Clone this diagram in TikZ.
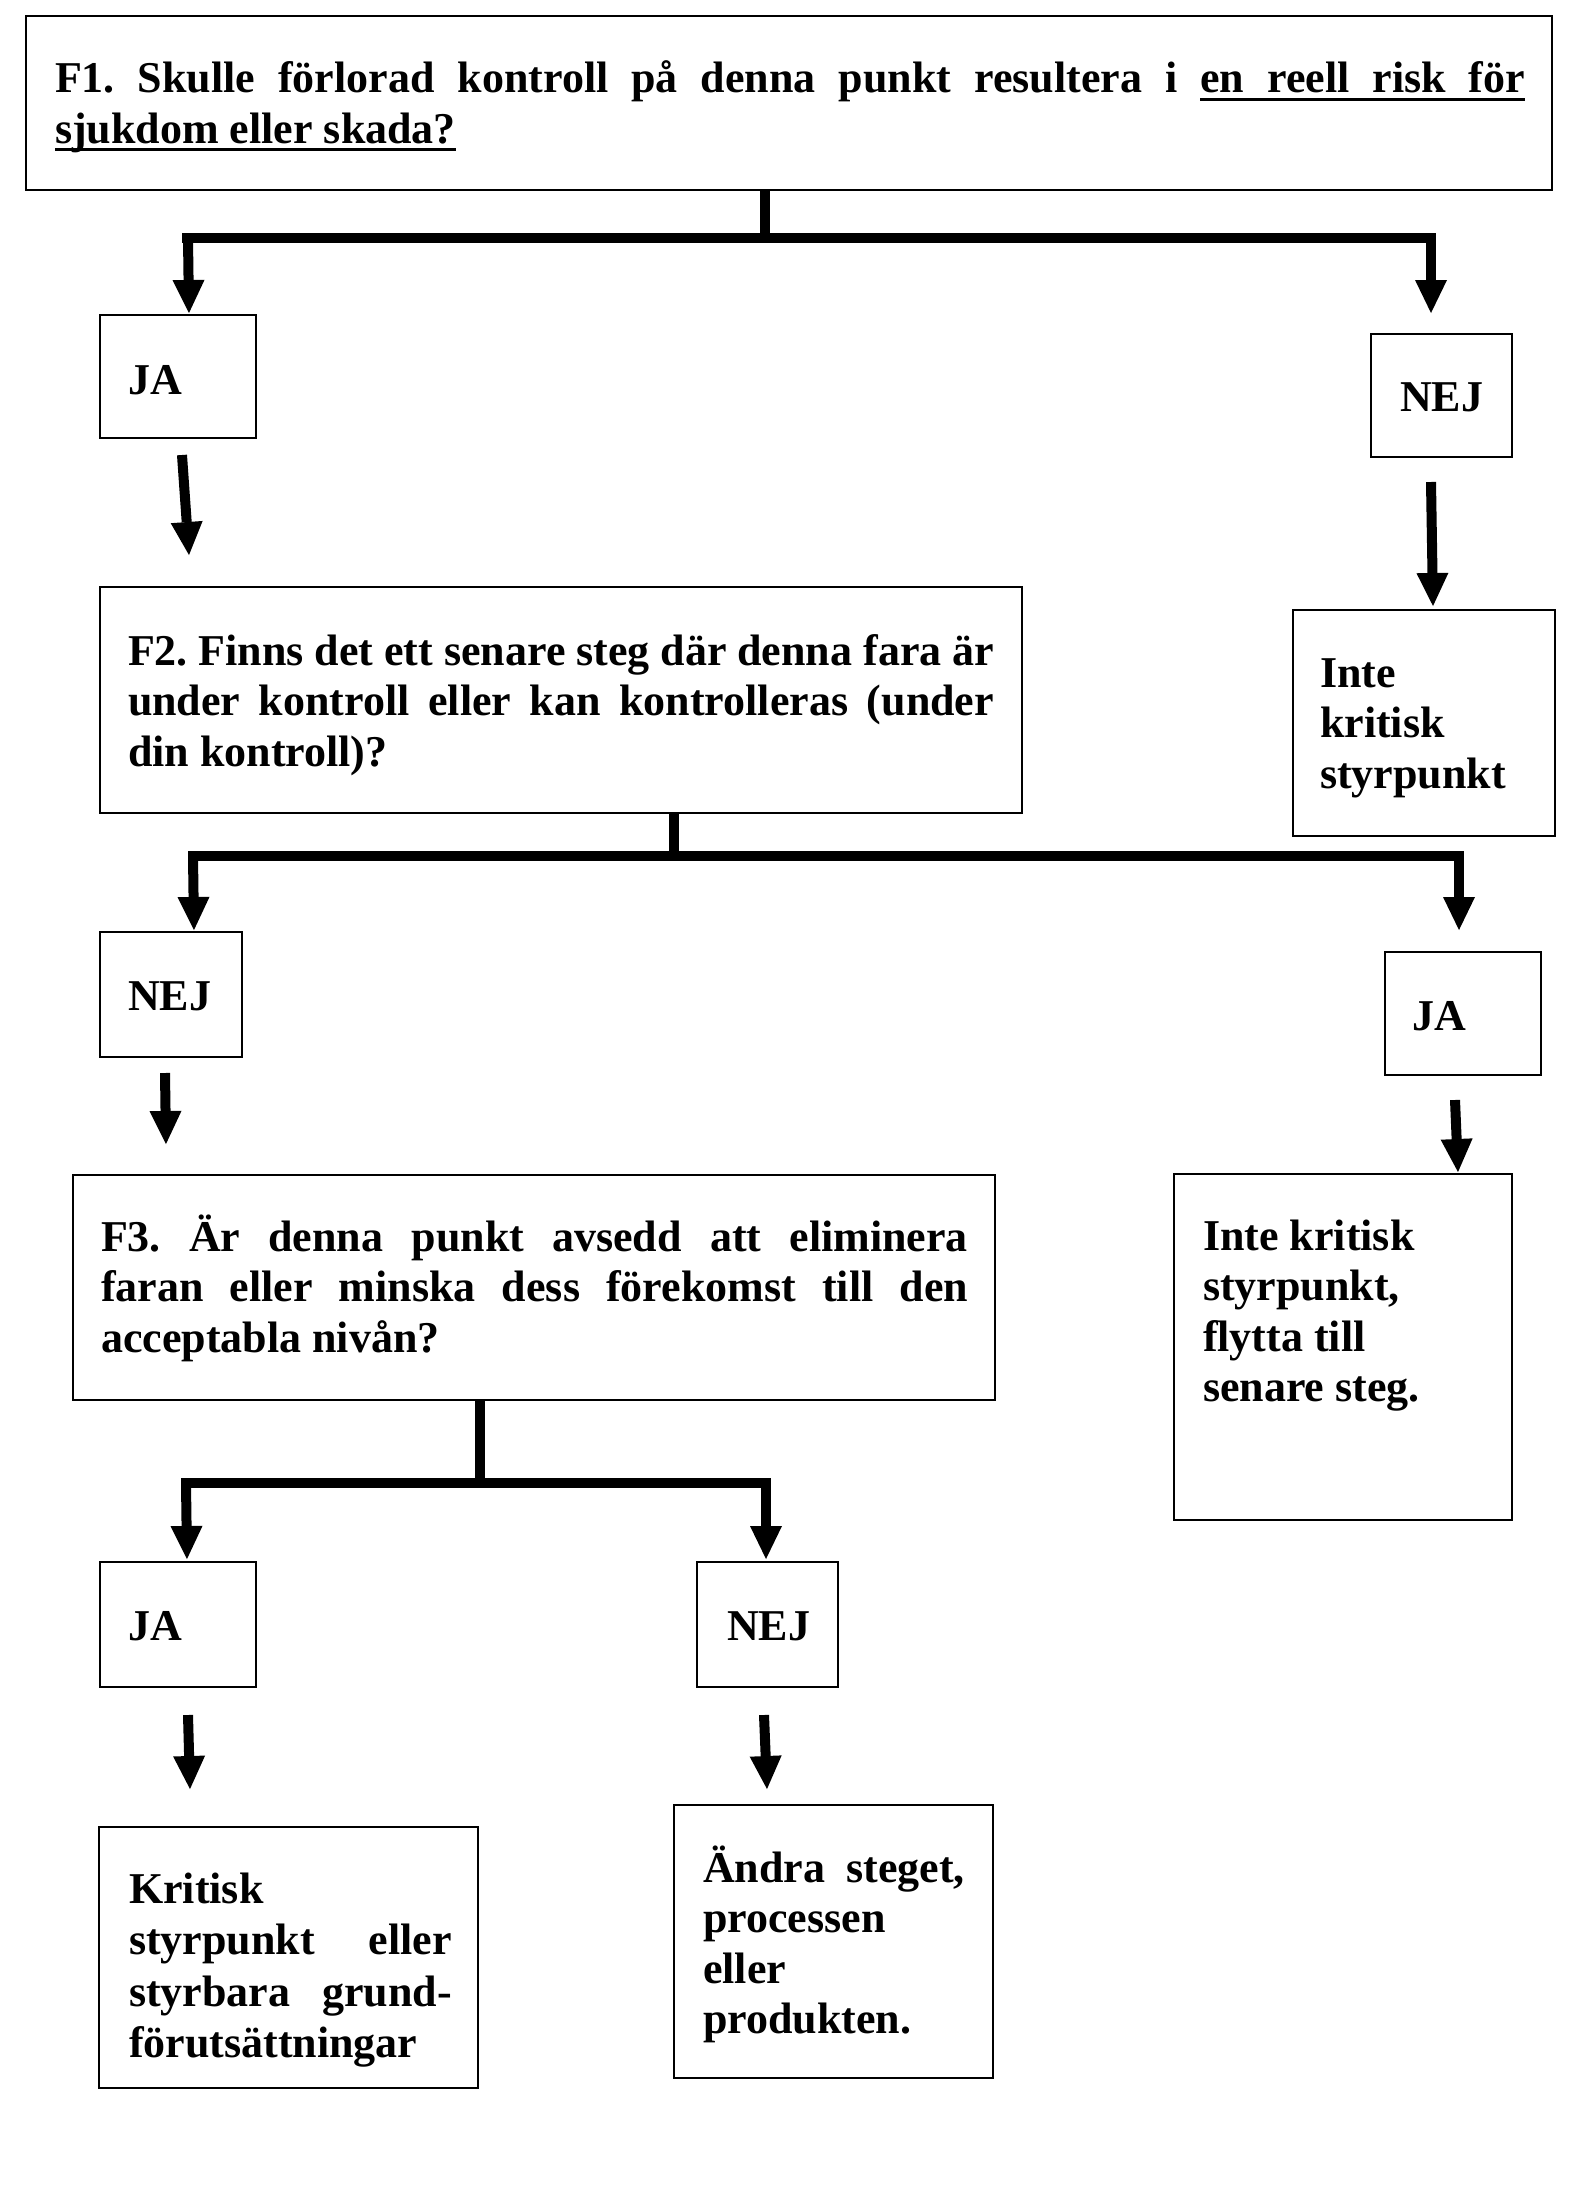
\documentclass[tikz,border=0pt]{standalone}
\usepackage{fontspec}
\setmainfont{Liberation Serif}
\usetikzlibrary{arrows.meta}
% underlined word and underlined stretchable space
\newcommand\uw[1]{\setbox0=\hbox{#1}\rlap{\vrule height -5pt depth 8pt width \wd0}\box0}
\newcommand\ug{\leaders\hrule height -5pt depth 8pt\hskip .25em plus 1fil minus .1em}
% justified line / left line / text block
\newcommand\jl[1]{\hbox to\hsize{\spaceskip=.25em plus 1fil minus .1em\relax #1}}
\newcommand\lft[1]{\hbox{#1}}
\newcommand\tblock[3][50.5pt]{\vtop{\hsize=#2\baselineskip=#1\lineskiplimit=-100pt\relax #3}}
\tikzset{
  x=1pt, y=-1pt,
  box/.style={draw, line width=2.5pt, anchor=north west, inner sep=0pt, outer sep=0pt},
  txt/.style={anchor=base west, inner sep=0pt, outer sep=0pt,
    font=\fontsize{44pt}{50.5pt}\selectfont\bfseries\frenchspacing},
  conn/.style={line width=10pt},
  arr/.style={line width=10pt, -{Triangle[width=32pt,length=33pt,line width=0pt]}}
}
\begin{document}
\begin{tikzpicture}
\useasboundingbox[fill=white] (0,0) rectangle (1580,2205);

% ---------- boxes ----------
\node[box, minimum width=1526pt, minimum height=174pt] (f1) at (26,16) {};
\node[box, minimum width=156pt, minimum height=123pt] (ja1) at (100,315) {};
\node[box, minimum width=141pt, minimum height=123pt] (nej1) at (1371,334) {};
\node[box, minimum width=922pt, minimum height=226pt] (f2) at (100,587) {};
\node[box, minimum width=262pt, minimum height=226pt] (inte1) at (1293,610) {};
\node[box, minimum width=142pt, minimum height=125pt] (nej2) at (100,932) {};
\node[box, minimum width=156pt, minimum height=123pt] (ja2) at (1385,952) {};
\node[box, minimum width=922pt, minimum height=225pt] (f3) at (73,1175) {};
\node[box, minimum width=338pt, minimum height=346pt] (inte2) at (1174,1174) {};
\node[box, minimum width=156pt, minimum height=125pt] (ja3) at (100,1562) {};
\node[box, minimum width=141pt, minimum height=125pt] (nej3) at (697,1562) {};
\node[box, minimum width=379pt, minimum height=261pt] (krit) at (99,1827) {};
\node[box, minimum width=319pt, minimum height=273pt] (andra) at (674,1805) {};

% ---------- texts ----------
\node[txt] (f1t) at (55,93) {\tblock{1470pt}{%
  \jl{F1. Skulle förlorad kontroll på denna punkt resultera i \uw{en}\ug\uw{reell}\ug\uw{risk}\ug\uw{för}}
  \lft{\uw{sjukdom eller skada?}}}};
\node[txt] (ja1t) at (128,394) {JA};
\node[txt] (nej1t) at (1400,411) {NEJ};
\node[txt] (f2t) at (128,665) {\tblock{866pt}{%
  \jl{F2. Finns det ett senare steg där denna fara är}
  \jl{under kontroll eller kan kontrolleras (under}
  \lft{din kontroll)?}}};
\node[txt] (inte1t) at (1320,687) {\tblock{220pt}{%
  \lft{Inte}
  \lft{kritisk}
  \lft{styrpunkt}}};
\node[txt] (nej2t) at (128,1010) {NEJ};
\node[txt] (ja2t) at (1412,1030) {JA};
\node[txt] (f3t) at (101,1251) {\tblock{867pt}{%
  \jl{F3. Är denna punkt avsedd att eliminera}
  \jl{faran eller minska dess förekomst till den}
  \lft{acceptabla nivån?}}};
\node[txt] (inte2t) at (1203,1250) {\tblock{290pt}{%
  \lft{Inte kritisk}
  \lft{styrpunkt,}
  \lft{flytta till}
  \lft{senare steg.}}};
\node[txt] (ja3t) at (128,1640) {JA};
\node[txt] (nej3t) at (727,1640) {NEJ};
\node[txt] (kritt) at (129,1903) {\tblock[51.5pt]{323pt}{%
  \lft{Kritisk}
  \jl{styrpunkt eller}
  \jl{styrbara grund-}
  \lft{förutsättningar}}};
\node[txt] (andrat) at (703,1882) {\tblock{262pt}{%
  \jl{Ändra steget,}
  \lft{processen}
  \lft{eller}
  \lft{produkten.}}};

% ---------- connector coordinates ----------
% tree 1
\coordinate (s1) at (765,190);  \coordinate (j1) at (765,238);
\coordinate (b1l) at (182,238); \coordinate (b1r) at (1436,238);
\coordinate (a1l) at (188,238); \coordinate (t1l) at (189,313);
\coordinate (a1r) at (1431,238); \coordinate (t1r) at (1431,313);
% tree 2
\coordinate (s2) at (674,813);  \coordinate (j2) at (674,856);
\coordinate (b2l) at (188,856); \coordinate (b2r) at (1464,856);
\coordinate (a2l) at (193,856); \coordinate (t2l) at (194,930);
\coordinate (a2r) at (1459,856); \coordinate (t2r) at (1459,930);
% tree 3
\coordinate (s3) at (480,1400); \coordinate (j3) at (480,1483);
\coordinate (b3l) at (181,1483); \coordinate (b3r) at (771,1483);
\coordinate (a3l) at (186,1483); \coordinate (t3l) at (187,1559);
\coordinate (a3r) at (766,1483); \coordinate (t3r) at (766,1559);
% free arrows
\coordinate (p1) at (182,455);  \coordinate (q1) at (189,555);
\coordinate (p2) at (1431,482); \coordinate (q2) at (1433,606);
\coordinate (p3) at (165,1073); \coordinate (q3) at (166,1144);
\coordinate (p4) at (1455,1100); \coordinate (q4) at (1458,1172);
\coordinate (p5) at (188,1715); \coordinate (q5) at (190,1789);
\coordinate (p6) at (764,1715); \coordinate (q6) at (767,1789);

% ---------- connectors ----------
\draw[conn] (s1) -- (j1);
\draw[conn] (b1l) -- (b1r);
\draw[arr] (a1l) -- (t1l);
\draw[arr] (a1r) -- (t1r);

\draw[conn] (s2) -- (j2);
\draw[conn] (b2l) -- (b2r);
\draw[arr] (a2l) -- (t2l);
\draw[arr] (a2r) -- (t2r);

\draw[conn] (s3) -- (j3);
\draw[conn] (b3l) -- (b3r);
\draw[arr] (a3l) -- (t3l);
\draw[arr] (a3r) -- (t3r);

\draw[arr] (p1) -- (q1);
\draw[arr] (p2) -- (q2);
\draw[arr] (p3) -- (q3);
\draw[arr] (p4) -- (q4);
\draw[arr] (p5) -- (q5);
\draw[arr] (p6) -- (q6);
\end{tikzpicture}
\end{document}
